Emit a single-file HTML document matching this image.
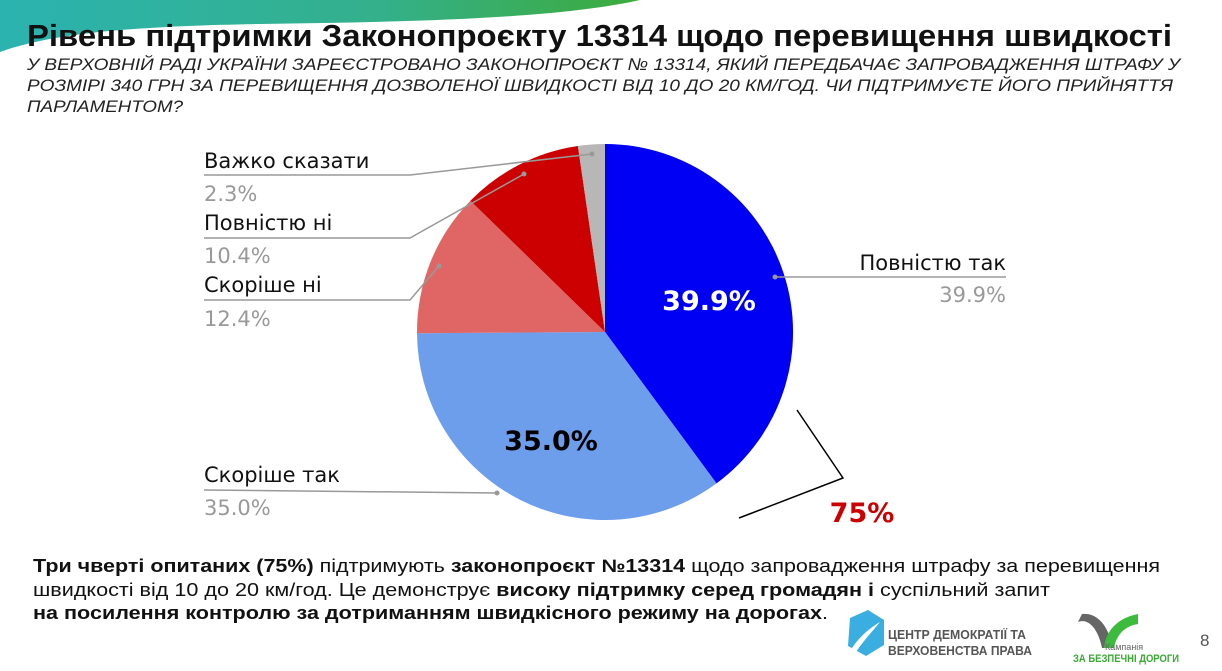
<!DOCTYPE html>
<html><head><meta charset="utf-8"><style>
html,body{margin:0;padding:0;background:#fff;}
svg{display:block;}
</style></head><body>
<svg width="1222" height="671" viewBox="0 0 1222 671" xmlns="http://www.w3.org/2000/svg">
<defs>
<linearGradient id="g" x1="0" y1="0" x2="1" y2="0">
<stop offset="0" stop-color="#2bb3b0"/><stop offset="0.6" stop-color="#34b08a"/><stop offset="1" stop-color="#3dab3a"/>
</linearGradient>
</defs>
<path d="M0 0 L640 0 C560 18 420 22 260 24 C130 26 50 34 0 52 Z" fill="url(#g)"/>
<g font-family="Liberation Sans, DejaVu Sans, sans-serif">
<text x="27" y="46" font-size="31" font-weight="bold" fill="#111" textLength="1145" lengthAdjust="spacingAndGlyphs">Рівень підтримки Законопроєкту 13314 щодо перевищення швидкості</text>
<g font-size="17" font-style="italic" fill="#222">
<text x="27" y="70" textLength="1153" lengthAdjust="spacingAndGlyphs">У ВЕРХОВНІЙ РАДІ УКРАЇНИ ЗАРЕЄСТРОВАНО ЗАКОНОПРОЄКТ № 13314, ЯКИЙ ПЕРЕДБАЧАЄ ЗАПРОВАДЖЕННЯ ШТРАФУ У</text>
<text x="27" y="91" textLength="1146" lengthAdjust="spacingAndGlyphs">РОЗМІРІ 340 ГРН ЗА ПЕРЕВИЩЕННЯ ДОЗВОЛЕНОЇ ШВИДКОСТІ ВІД 10 ДО 20 КМ/ГОД. ЧИ ПІДТРИМУЄТЕ ЙОГО ПРИЙНЯТТЯ</text>
<text x="27" y="112" textLength="156" lengthAdjust="spacingAndGlyphs">ПАРЛАМЕНТОМ?</text>
</g>
</g>
<path d="M605 332 L605 144 A188 188 0 0 1 716.5 483.4 Z" fill="#0000f5"/>
<path d="M605 332 L716.5 483.4 A188 188 0 0 1 417 333.2 Z" fill="#6d9eeb"/>
<path d="M605 332 L417 333.2 A188 188 0 0 1 470.4 200.7 Z" fill="#e06666"/>
<path d="M605 332 L470.4 200.7 A188 188 0 0 1 577.9 146 Z" fill="#cc0000"/>
<path d="M605 332 L577.9 146 A188 188 0 0 1 605 144 Z" fill="#b7b7b7"/>
<g stroke="#999" stroke-width="1.5" fill="none">
<polyline points="204,175 410,175 592,154"/>
<polyline points="204,238 410,238 524,174"/>
<polyline points="204,300 410,300 439,266"/>
<polyline points="204,490 497,493"/>
<polyline points="775,277 1006,277"/>
</g>
<g fill="#999"><circle cx="592" cy="154" r="2.5"/><circle cx="524" cy="174" r="2.5"/><circle cx="439" cy="266" r="2.5"/><circle cx="497" cy="493" r="2.5"/><circle cx="775" cy="277" r="2.5"/></g>
<g font-family="DejaVu Sans, Liberation Sans, sans-serif" font-size="21">
<text x="204" y="168" fill="#111">Важко сказати</text>
<text x="204" y="201" fill="#999">2.3%</text>
<text x="204" y="230" fill="#111">Повністю ні</text>
<text x="204" y="263" fill="#999">10.4%</text>
<text x="204" y="292" fill="#111">Скоріше ні</text>
<text x="204" y="326" fill="#999">12.4%</text>
<text x="204" y="482" fill="#111">Скоріше так</text>
<text x="204" y="515" fill="#999">35.0%</text>
<text x="1006" y="270" fill="#111" text-anchor="end">Повністю так</text>
<text x="1006" y="302" fill="#999" text-anchor="end">39.9%</text>
<text x="709" y="310" fill="#fff" font-size="27" font-weight="bold" text-anchor="middle">39.9%</text>
<text x="551" y="450" fill="#000" font-size="27" font-weight="bold" text-anchor="middle">35.0%</text>
<text x="862" y="522" fill="#cc0000" font-size="27" font-weight="bold" text-anchor="middle">75%</text>
</g>
<polyline points="797,410 843,478 739,518" stroke="#000" stroke-width="1.5" fill="none"/>
<g font-family="Liberation Sans, sans-serif" font-size="18" fill="#111">
<text x="33" y="572" textLength="1127" lengthAdjust="spacingAndGlyphs"><tspan font-weight="bold">Три чверті опитаних (75%)</tspan> підтримують <tspan font-weight="bold">законопроєкт №13314</tspan> щодо запровадження штрафу за перевищення</text>
<text x="33" y="596" textLength="1017" lengthAdjust="spacingAndGlyphs">швидкості від 10 до 20 км/год. Це демонструє <tspan font-weight="bold">високу підтримку серед громадян і</tspan> суспільний запит</text>
<text x="33" y="619" textLength="795" lengthAdjust="spacingAndGlyphs"><tspan font-weight="bold">на посилення контролю за дотриманням швидкісного режиму на дорогах</tspan>.</text>
</g>
<path d="M850 618 L868 610 L884 620 L884 645 L866 656 L848 646 Z" fill="#3aaee0"/>
<path d="M852 648 C860 636 870 628 880 622 C872 632 864 640 856 652 Z" fill="#fff"/>
<g font-family="Liberation Sans, sans-serif" font-weight="bold" font-size="12.5" fill="#555">
<text x="888" y="639" textLength="138" lengthAdjust="spacingAndGlyphs">ЦЕНТР ДЕМОКРАТІЇ ТА</text>
<text x="888" y="655" textLength="144" lengthAdjust="spacingAndGlyphs">ВЕРХОВЕНСТВА ПРАВА</text>
</g>
<path d="M1078 622 C1088 618 1098 628 1102 648 L1112 648 C1110 628 1098 612 1082 614 Z" fill="#666"/>
<path d="M1104 648 C1106 630 1118 618 1138 614 L1138 624 C1124 626 1116 636 1114 648 Z" fill="#3dbb3d"/>
<text x="1105" y="650" font-family="Liberation Sans, sans-serif" font-size="9" fill="#666">Кампанія</text>
<text x="1073" y="662" font-family="Liberation Sans, sans-serif" font-size="11" font-weight="bold" fill="#3aaa35" textLength="106" lengthAdjust="spacingAndGlyphs">ЗА БЕЗПЕЧНІ ДОРОГИ</text>
<text x="1200" y="646" font-family="Liberation Sans, sans-serif" font-size="17" fill="#555">8</text>
</svg>
</body></html>
